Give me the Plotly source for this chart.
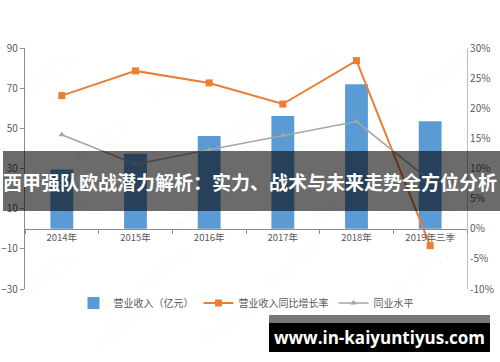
import plotly.graph_objects as go

categories = ["2014年", "2015年", "2016年", "2017年", "2018年", "2019年三季"]
revenue = [29.5, 37.3, 46.2, 56.2, 72.0, 53.5]            # 营业收入（亿元）
revenue_growth = [22.1, 26.2, 24.2, 20.7, 27.9, -2.8]     # 营业收入同比增长率 (%)
industry_level = [15.6, 10.7, 13.1, 15.5, 17.8, 8.0]      # 同业水平 (%)
left_ticks = [-30, -10, 10, 30, 50, 70, 90]
right_ticks = [-10, -5, 0, 5, 10, 15, 20, 25, 30]

W, H = 500, 362
L, R, T, B = 25, 467, 48, 289

def px(x):
    return (x - L) / (R - L)

def py(y):
    return (B - y) / (B - T)

FONT = "Noto Sans CJK SC"
TICKC = "#595959"

fig = go.Figure()
fig.add_trace(go.Bar(
    x=categories, y=revenue, name="营业收入（亿元）",
    marker=dict(color="#5B9BD5", line=dict(width=0)), width=0.31, yaxis="y",
))
fig.add_trace(go.Scatter(
    x=categories, y=revenue_growth, name="营业收入同比增长率", yaxis="y2",
    mode="lines+markers", line=dict(color="#ED7D31", width=2),
    marker=dict(symbol="square", size=7, color="#ED7D31"),
))
fig.add_trace(go.Scatter(
    x=categories, y=industry_level, name="同业水平", yaxis="y2",
    mode="lines+markers", line=dict(color="#A5A5A5", width=1.6),
    marker=dict(symbol="triangle-up", size=6, color="#A5A5A5"),
))

shapes = [
    dict(type="rect", xref="paper", yref="paper", x0=px(3), x1=px(500), y0=py(211), y1=py(151),
         fillcolor="rgba(0,0,0,0.58)", line=dict(width=0), layer="above"),
    dict(type="rect", xref="paper", yref="paper", x0=px(269), x1=px(490), y0=py(323), y1=py(315),
         fillcolor="#777777", line=dict(width=0), layer="above"),
    dict(type="rect", xref="paper", yref="paper", x0=px(269), x1=px(490), y0=py(352), y1=py(323),
         fillcolor="#000000", line=dict(width=0), layer="above"),
]

annotations = []
# faint watermarks
for (wx, wy) in [(45, 75), (175, 80), (305, 70), (440, 75), (100, 140), (235, 130), (370, 125),
                 (60, 215), (200, 210), (340, 200), (445, 220), (45, 275), (160, 270),
                 (290, 265), (420, 270), (120, 325), (230, 320)]:
    annotations.append(dict(x=px(wx), y=py(wy), xref="paper", yref="paper", text="市值风云",
                            xanchor="center", yanchor="middle",
                            showarrow=False, textangle=-38,
                            font=dict(family=FONT, size=17, color="rgba(0,0,0,0.03)")))
annotations += [
    dict(x=px(250), y=py(181.5), xref="paper", yref="paper", xanchor="center", yanchor="middle",
         text="<b>西甲强队欧战潜力解析：实力、战术与未来走势全方位分析</b>",
         showarrow=False, font=dict(family=FONT, size=19, color="white")),
    dict(x=px(379.5), y=py(337.5), xref="paper", yref="paper", xanchor="center", yanchor="middle",
         text="<b>www.in-kaiyuntiyus.com</b>",
         showarrow=False, font=dict(family="Open Sans", size=17, color="white")),
]

fig.update_layout(
    template="none",
    width=W, height=H,
    margin=dict(l=L, r=W - R, t=T, b=H - B, pad=0),
    paper_bgcolor="white", plot_bgcolor="white",
    font=dict(family=FONT, size=10, color=TICKC),
    xaxis=dict(type="category", range=[-0.5, 5.5], anchor="free", position=0.25, automargin=False,
               showline=True, linecolor="#8c8c8c", linewidth=1.2,
               ticks="outside", ticklen=4, tickcolor="#8c8c8c", tickson="boundaries",
               showgrid=False, zeroline=False, tickfont=dict(size=9.5, color=TICKC)),
    yaxis=dict(range=[-30, 90], tickvals=left_ticks, showgrid=False, zeroline=False, automargin=False,
               showline=True, linecolor="#8c8c8c", linewidth=1.2,
               ticks="outside", ticklen=4, tickcolor="#8c8c8c",
               tickfont=dict(size=10, color=TICKC)),
    yaxis2=dict(range=[-10, 30], tickvals=right_ticks, ticktext=[f"{v}%" for v in right_ticks],
                overlaying="y", side="right", showgrid=False, zeroline=False, automargin=False,
                showline=True, linecolor="#bfbfbf", linewidth=1.2,
                ticks="", tickfont=dict(size=10, color=TICKC)),
    showlegend=True,
    legend=dict(orientation="h", x=0.5, xanchor="center", y=py(303), yanchor="middle",
                font=dict(size=10, color=TICKC), itemwidth=30, bgcolor="rgba(0,0,0,0)"),
    shapes=shapes, annotations=annotations,
)

fig.write_html("out.html")
